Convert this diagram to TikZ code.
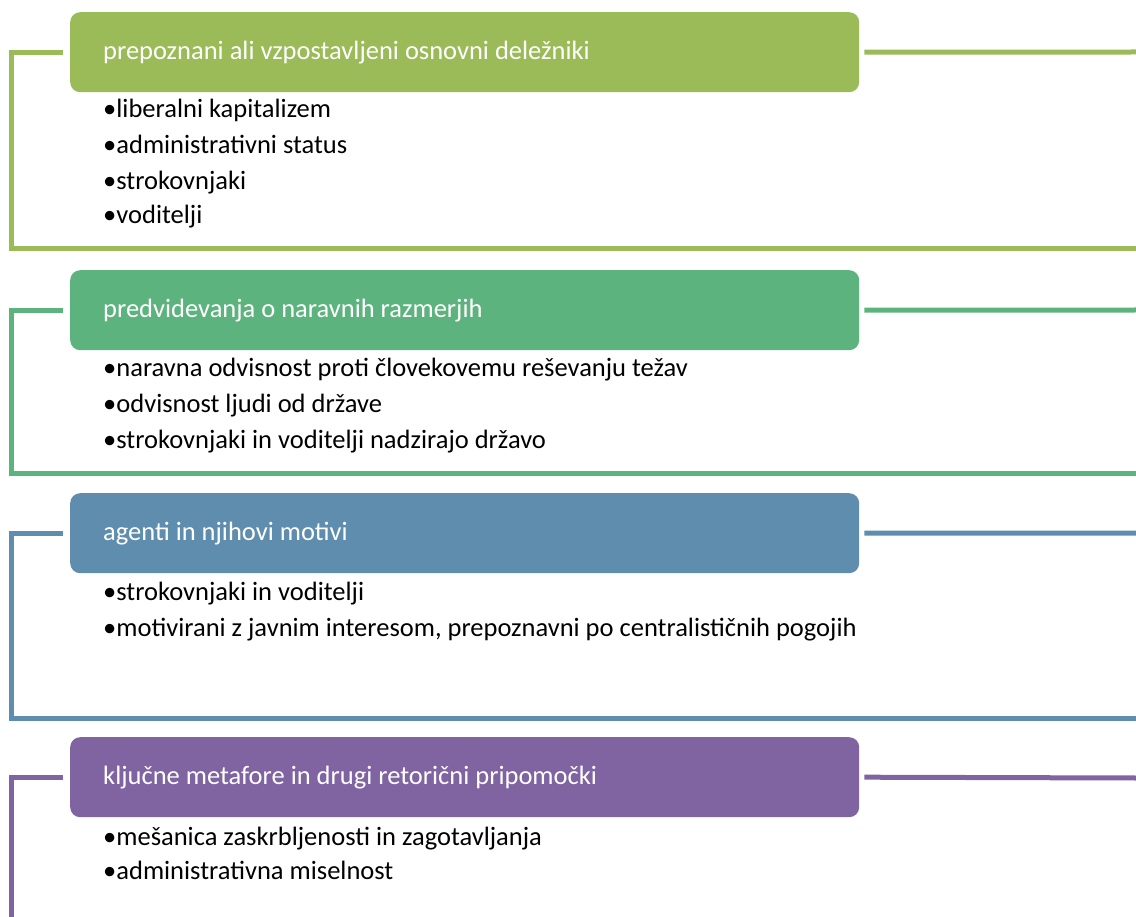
\documentclass[tikz,border=0pt]{standalone}
\usepackage{fontspec}
\setmainfont{Carlito}
\definecolor{cA}{HTML}{9BBB59}
\definecolor{cB}{HTML}{5DB37E}
\definecolor{cC}{HTML}{5F8DAD}
\definecolor{cD}{HTML}{8064A2}
\tikzset{
  hdr/.style={rectangle, rounded corners=10pt, fill=#1, draw=none, anchor=north west,
    minimum height=80pt, text width=723pt, inner xsep=33pt, inner ysep=0pt, align=flush left,
    text=white, font=\fontsize{26.5}{31}\selectfont},
  item/.style={anchor=base west, inner sep=0pt, text=black, font=\fontsize{26.5}{31}\selectfont},
  frame/.style={line width=5pt, draw=#1, line join=miter},
}
\begin{document}
\begin{tikzpicture}[x=1pt,y=-1pt]
\useasboundingbox (0,0) rectangle (1136,917);
% group 1
\node[hdr=cA] (h1) at (70,12) {prepoznani ali vzpostavljeni osnovni deležniki};
\coordinate (l1) at (11,249);
\coordinate (r1) at (1136,249);
\coordinate (e1) at (1136,52);
\draw[frame=cA] ([xshift=-7pt]h1.west) -| (l1) -- (r1);
\draw[frame=cA] ([xshift=5pt]h1.east) -- (e1);
\node[item] (a1) at (103,118) {•liberalni kapitalizem};
\node[item] (a2) at (103,154) {•administrativni status};
\node[item] (a3) at (103,189.5) {•strokovnjaki};
\node[item] (a4) at (103,224) {•voditelji};
% group 2
\node[hdr=cB] (h2) at (70,270) {predvidevanja o naravnih razmerjih};
\coordinate (l2) at (11,473);
\coordinate (r2) at (1136,473);
\coordinate (e2) at (1136,310);
\draw[frame=cB] ([xshift=-7pt]h2.west) -| (l2) -- (r2);
\draw[frame=cB] ([xshift=5pt]h2.east) -- (e2);
\node[item] (b1) at (103,377) {•naravna odvisnost proti človekovemu reševanju težav};
\node[item] (b2) at (103,413) {•odvisnost ljudi od države};
\node[item] (b3) at (103,448.5) {•strokovnjaki in voditelji nadzirajo državo};
% group 3
\node[hdr=cC] (h3) at (70,493) {agenti in njihovi motivi};
\coordinate (l3) at (11,718);
\coordinate (r3) at (1136,718);
\coordinate (e3) at (1136,533);
\draw[frame=cC] ([xshift=-7pt]h3.west) -| (l3) -- (r3);
\draw[frame=cC] ([xshift=5pt]h3.east) -- (e3);
\node[item] (c1) at (103,600) {•strokovnjaki in voditelji};
\node[item] (c2) at (103,636) {•motivirani z javnim interesom, prepoznavni po centralističnih pogojih};
% group 4
\node[hdr=cD] (h4) at (70,737) {ključne metafore in drugi retorični pripomočki};
\coordinate (l4) at (11,920);
\coordinate (e4) at (1136,778);
\draw[frame=cD] ([xshift=-7pt]h4.west) -| (l4);
\draw[frame=cD] ([xshift=5pt]h4.east) -- (e4);
\node[item] (d1) at (103,845) {•mešanica zaskrbljenosti in zagotavljanja};
\node[item] (d2) at (103,879.5) {•administrativna miselnost};
\end{tikzpicture}
\end{document}
